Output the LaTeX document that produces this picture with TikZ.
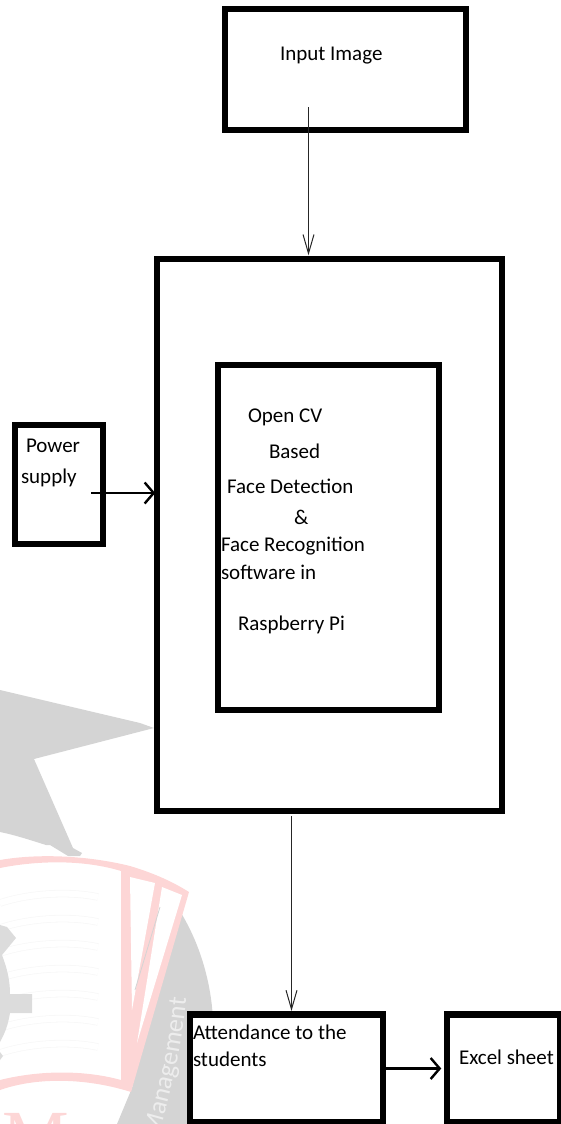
\documentclass[tikz,border=0pt]{standalone}
\usepackage{fontspec}
\setmainfont{Carlito}
\usetikzlibrary{arrows.meta,decorations.text}
\definecolor{wmgray}{HTML}{D4D4D4}
\definecolor{wmgear}{HTML}{DCDCDC}
\definecolor{wmred}{HTML}{FDD6D6}
\definecolor{wmfaint}{HTML}{F8F8F8}
\tikzset{
  box/.style={draw=black,fill=white,line width=6.2pt,outer sep=0pt,inner sep=0pt},
  lbl/.style={anchor=base west,inner sep=0pt,outer sep=0pt,font=\fontsize{21}{23}\selectfont,text=black},
  thin arrow/.style={draw=black!85,line width=1pt,-{Straight Barb[length=19pt,width=11pt]}},
  thick arrow/.style={draw=black,line width=2.4pt,-{Straight Barb[length=9pt,width=21pt]}}
}
\begin{document}
\begin{tikzpicture}[x=1pt,y=-1pt]
\useasboundingbox (0,0) rectangle (561,1124);
% watermark
\begin{scope}
\clip (0,0) rectangle (561,1124);
\fill[wmgray] (0,690) -- (140,723) -- (154,728) -- (34,759) -- (73,848) -- (82,853) -- (80,856) -- (68,856) -- (50,845) -- (46,845) .. controls (30,840) and (15,835) .. (0,832) -- cycle;
\fill[wmgray] (178,908) .. controls (205,950) and (215,1000) .. (213,1040) .. controls (212,1070) and (205,1100) .. (198,1124) -- (117,1124) -- (132,1088) -- cycle;
\foreach \yy in {895,920,945,970,995,1020,1045}
  \draw[wmfaint,line width=.8pt,double=white,double distance=6pt] (0,\yy+8) .. controls (30,\yy-2) and (70,\yy-4) .. (98,\yy+2);
\fill[wmgear] (0,925) -- (7,927) -- (16,938) -- (2,955) .. controls (7,968) and (10,980) .. (10,994) -- (32,994) -- (32,1013) -- (10,1013) .. controls (8,1025) and (5,1033) .. (0,1042) -- cycle;
\fill[wmgear] (0,1052) -- (3,1056) -- (0,1060) -- cycle;
\fill[wmred] (0,860) .. controls (40,853) and (90,856) .. (130,866) .. controls (150,872) and (170,880) .. (189,892) -- (131,1092) .. controls (90,1079) and (40,1076) .. (0,1090) -- (0,1080) .. controls (40,1070) and (85,1070) .. (121,1080) -- (121,871) .. controls (85,860) and (40,860) .. (0,868) -- cycle;
\fill[white] (130,877) -- (155,883) -- (132,1010) -- cycle;
\fill[white] (162,887) -- (182,895) -- (137,1043) -- cycle;
\draw[wmgray,line width=0.8pt] (160,907) -- (135,990);
\path[decorate,decoration={text along path,text align=left,raise=0pt,
  text={|\fontsize{26}{26}\selectfont\color{white!93!black}|Management}}]
  (158,1137) .. controls (170,1095) and (182,1050) .. (187,990);
\node[anchor=base,inner sep=0pt,font=\fontsize{75}{75}\selectfont,text=wmred] (wmm) at (36,1162) {\fontspec{Liberation Serif}M};
\end{scope}
% boxes
\node[box,minimum width=240.5pt,minimum height=120.5pt] (input) at (345.5,69.5) {};
\node[box,minimum width=344.5pt,minimum height=551.5pt] (main) at (329.5,535) {};
\node[box,minimum width=220.5pt,minimum height=344.5pt] (inner) at (328.5,537.5) {};
\node[box,minimum width=87.5pt,minimum height=118.5pt] (power) at (59,484.5) {};
\node[box,minimum width=192.5pt,minimum height=108pt] (att) at (286.5,1068.5) {};
\node[box,minimum width=112.5pt,minimum height=108pt] (excel) at (503.5,1068.5) {};
% labels
\node[lbl] (t1) at (280,60) {Input Image};
\node[lbl] (t2) at (248,422) {Open CV};
\node[lbl] (t3) at (269,458) {Based};
\node[lbl] (t4) at (227,493) {Face Detection};
\node[lbl] (t5) at (294,524) {\&};
\node[lbl] (t6) at (221,551) {Face Recognition};
\node[lbl] (t7) at (221,579) {software in};
\node[lbl] (t8) at (238,630) {Raspberry Pi};
\node[lbl] (t9) at (26,452) {Power};
\node[lbl] (t10) at (21,483) {supply};
\node[lbl] (t11) at (193,1039) {Attendance to the};
\node[lbl] (t12) at (193,1066) {students};
\node[lbl] (t13) at (459,1064) {Excel sheet};
% connectors
\coordinate (inS) at (308.5,107);
\coordinate (outX) at (291.5,813);
\coordinate (pwS) at (91,493);
\draw[thin arrow,shorten >=4pt] (inS) -- (inS |- main.north);
\draw[thin arrow,shorten <=5.5pt,shorten >=3.5pt] (outX |- main.south) -- (outX |- att.north);
\draw[thick arrow,shorten >=2pt] (pwS) -- (pwS -| main.west);
\draw[thick arrow,shorten >=6pt] (att.east) -- (excel.west);
\end{tikzpicture}
\end{document}
